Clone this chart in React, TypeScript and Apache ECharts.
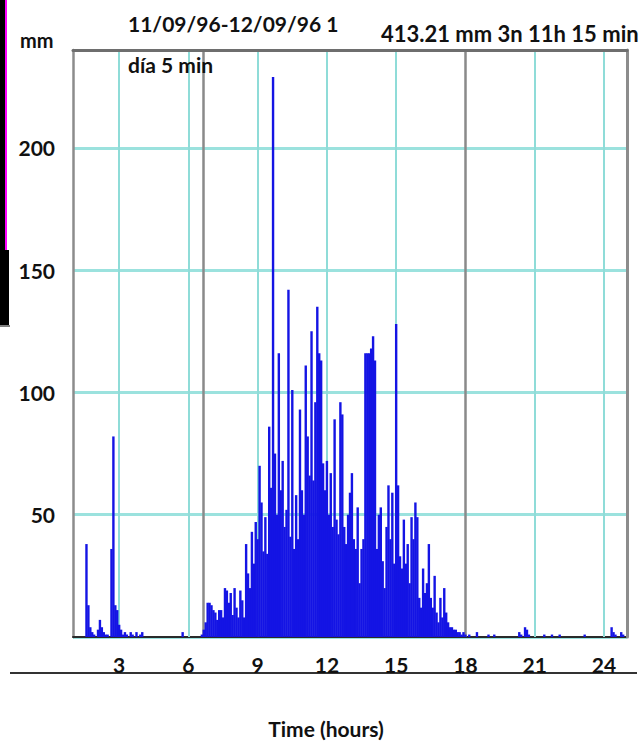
import React, { useEffect, useRef } from 'react';
import * as echarts from 'echarts';

// ---- data ----
const startHour = 1;
const endHour = 25;
const stepHours = 5 / 60;
// 5-minute rainfall intensity, one row per hour starting at hour 1
const rain5min: number[][] = [
  [0, 0, 0, 0, 0, 0, 0, 38, 13, 4, 2, 1],
  [0, 3, 7, 4, 2, 1, 1, 0, 36, 82, 13, 11],
  [5, 3, 1, 2, 1, 0, 2, 1, 0, 2, 0, 1],
  [2, 0, 0, 0, 0, 0, 0, 0, 0, 0, 0, 0],
  [0, 0, 0, 0, 0, 0, 0, 0, 0, 2, 0, 0],
  [0, 0, 0, 0, 0, 0, 0, 1, 3, 6, 14, 14],
  [13, 11, 10, 7, 11, 11, 8, 20, 19, 14, 18, 9],
  [20, 12, 8, 19, 15, 8, 38, 26, 20, 43, 30, 47],
  [40, 70, 55, 35, 49, 34, 86, 61, 229, 75, 50, 116],
  [60, 72, 45, 52, 142, 41, 101, 36, 58, 40, 93, 60],
  [50, 111, 82, 66, 125, 64, 96, 135, 116, 113, 71, 60],
  [72, 50, 67, 45, 89, 48, 42, 96, 91, 45, 38, 50],
  [59, 67, 40, 36, 53, 22, 36, 40, 116, 116, 116, 118],
  [123, 113, 36, 50, 53, 31, 20, 45, 62, 40, 59, 30],
  [128, 62, 33, 28, 48, 30, 38, 22, 49, 40, 55, 49],
  [16, 12, 28, 18, 22, 38, 16, 12, 25, 10, 6, 16],
  [8, 20, 10, 6, 4, 4, 3, 3, 2, 2, 1, 2],
  [1, 0, 1, 0, 0, 0, 2, 0, 0, 0, 0, 0],
  [1, 0, 0, 1, 0, 0, 0, 0, 0, 0, 0, 0],
  [0, 0, 0, 0, 2, 1, 0, 4, 3, 1, 0, 0],
  [0, 0, 0, 0, 0, 1, 0, 0, 0, 1, 0, 0],
  [0, 1, 0, 0, 0, 0, 0, 0, 0, 0, 0, 0],
  [0, 0, 1, 0, 0, 0, 0, 0, 0, 0, 0, 0],
  [0, 0, 0, 0, 4, 2, 1, 0, 0, 2, 1, 0],
];
const xTickHours = [3, 6, 9, 12, 15, 18, 21, 24];
const gridHours = [3, 6, 9, 12, 15, 21, 24];
const eventHours = [6.63, 18];
const yTicks = [50, 100, 150, 200];
const yMax = 240;
const titleLeft = ['11/09/96-12/09/96 1', 'día 5 min'];
const titleRight = '413.21 mm 3n 11h 15 min';
const yAxisName = 'mm';
const xAxisName = 'Time (hours)';

const FONT = 'Lato, "Open Sans", sans-serif';

export default function App() {
  const ref = useRef<HTMLDivElement>(null);
  useEffect(() => {
    if (!ref.current) return;
    const chart = echarts.init(ref.current, null, { renderer: 'svg' });
    const seriesData = rain5min.flat().map((v, i) => [startHour + i * stepHours, v]);
    const txt = (text: string, x: number, y: number, size: number, align = 'left') => ({
      type: 'text',
      x,
      y,
      z: 10,
      silent: true,
      style: {
        text,
        fill: '#111',
        fontSize: size,
        fontWeight: 'bold',
        fontFamily: FONT,
        align,
        verticalAlign: 'middle',
      },
    });
    const option: any = {
      animation: false,
      backgroundColor: '#ffffff',
      grid: { left: 73, top: 50, right: 17, bottom: 105, containLabel: false, outerBoundsMode: 'none' },
      xAxis: [
        {
          type: 'value',
          min: startHour,
          max: endHour,
          interval: 1,
          position: 'bottom',
          axisLine: { show: true, onZero: false, lineStyle: { color: '#2a2a2a', width: 2 } },
          axisTick: { show: false },
          splitLine: { show: false },
          axisLabel: {
            formatter: (v: number) => (xTickHours.includes(v) ? String(v) : ''),
            margin: 17,
            color: '#111',
            fontSize: 21,
            fontWeight: 'bold',
            fontFamily: FONT,
            showMinLabel: true,
            showMaxLabel: true,
          },
        },
        {
          type: 'value',
          min: startHour,
          max: endHour,
          position: 'top',
          z: 5,
          axisLine: { show: true, onZero: false, lineStyle: { color: '#6e6e6e', width: 3 } },
          axisTick: { show: false },
          axisLabel: { show: false },
          splitLine: { show: false },
        },
      ],
      yAxis: [
        {
          type: 'value',
          min: 0,
          max: yMax,
          interval: 50,
          axisLine: { show: true, onZero: false, lineStyle: { color: '#8c8c8c', width: 2.5 } },
          axisTick: { show: false },
          splitLine: { show: true, lineStyle: { color: '#9be2de', width: 3 } },
          axisLabel: {
            formatter: (v: number) => (yTicks.includes(v) ? String(v) : ''),
            margin: 18,
            color: '#111',
            fontSize: 21,
            fontWeight: 'bold',
            fontFamily: FONT,
          },
        },
        {
          type: 'value',
          min: 0,
          max: yMax,
          position: 'right',
          z: 5,
          axisLine: { show: true, onZero: false, lineStyle: { color: '#8c8c8c', width: 3 } },
          axisTick: { show: false },
          axisLabel: { show: false },
          splitLine: { show: false },
        },
      ],
      series: [
        {
          type: 'bar',
          name: 'rain',
          xAxisIndex: 0,
          yAxisIndex: 0,
          data: seriesData,
          barWidth: 2.4,
          z: 3,
          itemStyle: { color: '#1414e4' },
          markLine: {
            silent: true,
            symbol: 'none',
            z: 2,
            label: { show: false },
            data: [
              ...gridHours.map((h) => ({ xAxis: h, lineStyle: { color: '#8fdcd8', width: 2, type: 'solid' } })),
              ...eventHours.map((h) => ({ xAxis: h, lineStyle: { color: '#8a8a8a', width: 2.5, type: 'solid' } })),
            ],
          },
        },
      ],
      graphic: [
        { type: 'rect', silent: true, shape: { x: 0, y: 0, width: 5, height: 325 }, style: { fill: '#000' } },
        { type: 'rect', silent: true, shape: { x: 5, y: 0, width: 2, height: 250 }, style: { fill: '#ff00ff' } },
        { type: 'rect', silent: true, shape: { x: 0, y: 250, width: 9, height: 75 }, style: { fill: '#000' } },
        { type: 'line', silent: true, shape: { x1: 0, y1: 326, x2: 10, y2: 326 }, style: { stroke: '#555', lineWidth: 1.5 } },
        { type: 'line', silent: true, shape: { x1: 10, y1: 673, x2: 637, y2: 673 }, style: { stroke: '#333', lineWidth: 2 } },
        txt(titleLeft[0], 128, 23, 21),
        txt(titleLeft[1], 128, 64, 21),
        txt(titleRight, 381, 33, 22),
        txt(yAxisName, 20, 40, 20),
        txt(xAxisName, 326, 728, 21, 'center'),
      ],
    };
    chart.setOption(option);
    return () => chart.dispose();
  }, []);
  return (
    <div
      ref={ref}
      style={{ position: 'absolute', left: 0, top: 0, width: 644, height: 742, background: '#fff' }}
    />
  );
}
